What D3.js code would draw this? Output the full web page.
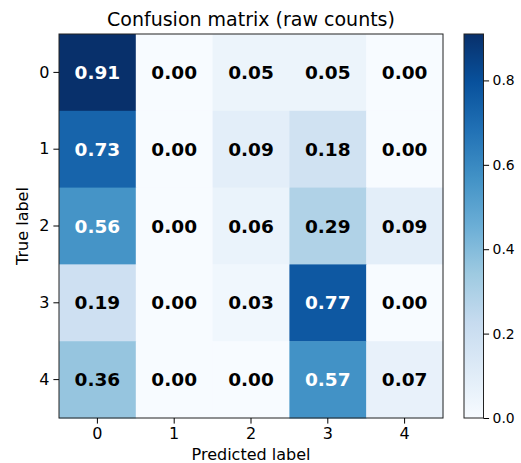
<!DOCTYPE html>
<html><head><meta charset="utf-8">
<script src="https://cdn.jsdelivr.net/npm/d3@7"></script>
<style>body{margin:0;background:#fff}svg{font-family:"DejaVu Sans",sans-serif}</style>
</head><body>
<svg id="c" width="521" height="463"></svg>
<script>
const predictedLabels = ["0","1","2","3","4"];
const trueLabels = ["0","1","2","3","4"];
const row0 = [0.91, 0.00, 0.05, 0.05, 0.00];
const row1 = [0.73, 0.00, 0.09, 0.18, 0.00];
const row2 = [0.56, 0.00, 0.06, 0.29, 0.09];
const row3 = [0.19, 0.00, 0.03, 0.77, 0.00];
const row4 = [0.36, 0.00, 0.00, 0.57, 0.07];
const matrix = [row0, row1, row2, row3, row4];
const colorbarTicks = [0.0, 0.2, 0.4, 0.6, 0.8];
const blues = ["#f7fbff","#deebf7","#c6dbef","#9ecae1","#6baed6","#4292c6","#2171b5","#08519c","#08306b"];

const svg = d3.select("#c");
const L = 59, T = 34, W = 384, H = 384;
const vmax = d3.max(matrix.flat());
const color = d3.scaleLinear().domain(blues.map((_, i) => i / (blues.length - 1) * vmax)).range(blues).clamp(true);
const x = d3.scaleBand().domain(predictedLabels).range([L, L + W]);
const y = d3.scaleBand().domain(trueLabels).range([T, T + H]);

const cells = [];
matrix.forEach((r, i) => r.forEach((v, j) => cells.push({r: trueLabels[i], c: predictedLabels[j], v})));
svg.append("g").selectAll("rect").data(cells).join("rect")
  .attr("x", d => x(d.c)).attr("y", d => y(d.r))
  .attr("width", x.bandwidth() + 0.5).attr("height", y.bandwidth() + 0.5)
  .attr("fill", d => color(d.v));
svg.append("g").selectAll("text").data(cells).join("text")
  .attr("x", d => x(d.c) + x.bandwidth() / 2).attr("y", d => y(d.r) + y.bandwidth() / 2)
  .attr("text-anchor", "middle").attr("dominant-baseline", "central")
  .style("font-size", "18.5px").style("font-weight", "bold")
  .attr("fill", d => d.v > vmax / 2 ? "#fff" : "#000")
  .text(d => d.v.toFixed(2));

svg.append("rect").attr("x", L).attr("y", T).attr("width", W).attr("height", H)
  .attr("fill", "none").attr("stroke", "#222").attr("stroke-width", 1);

const xa = svg.append("g").attr("transform", `translate(0,${T + H})`).call(d3.axisBottom(x).tickSize(5.6).tickPadding(4));
const ya = svg.append("g").attr("transform", `translate(${L},0)`).call(d3.axisLeft(y).tickSize(5.6).tickPadding(4));
[xa, ya].forEach(a => {
  a.select(".domain").remove();
  a.selectAll("text").style("font-size", "16px").attr("fill", "#000").style("font-family", "DejaVu Sans");
  a.selectAll("line").attr("stroke", "#000");
});

svg.append("text").attr("x", L + W / 2).attr("y", 26).attr("text-anchor", "middle")
  .style("font-size", "19px").attr("fill", "#000").text("Confusion matrix (raw counts)");
svg.append("text").attr("x", L + W / 2).attr("y", 460).attr("text-anchor", "middle")
  .style("font-size", "16px").attr("fill", "#000").text("Predicted label");
svg.append("text").attr("transform", `translate(28,${T + H / 2}) rotate(-90)`).attr("text-anchor", "middle")
  .style("font-size", "16px").attr("fill", "#000").text("True label");

// colorbar
const cbX = 464, cbW = 19.5;
const cy = d3.scaleLinear().domain([0, vmax]).range([T + H, T]);
const defs = svg.append("defs");
const grad = defs.append("linearGradient").attr("id", "g").attr("x1", 0).attr("y1", 1).attr("x2", 0).attr("y2", 0);
blues.forEach((b, i) => grad.append("stop").attr("offset", i / (blues.length - 1)).attr("stop-color", b));
svg.append("rect").attr("x", cbX).attr("y", T).attr("width", cbW).attr("height", H)
  .attr("fill", "url(#g)").attr("stroke", "#222").attr("stroke-width", 1);
const ca = svg.append("g").attr("transform", `translate(${cbX + cbW},0)`)
  .call(d3.axisRight(cy).tickValues(colorbarTicks).tickFormat(d3.format(".1f")).tickSize(5.6).tickPadding(3.5));
ca.select(".domain").remove();
ca.selectAll("text").style("font-size", "13.9px").attr("fill", "#000").style("font-family", "DejaVu Sans");
ca.selectAll("line").attr("stroke", "#000");
</script>
</body></html>
